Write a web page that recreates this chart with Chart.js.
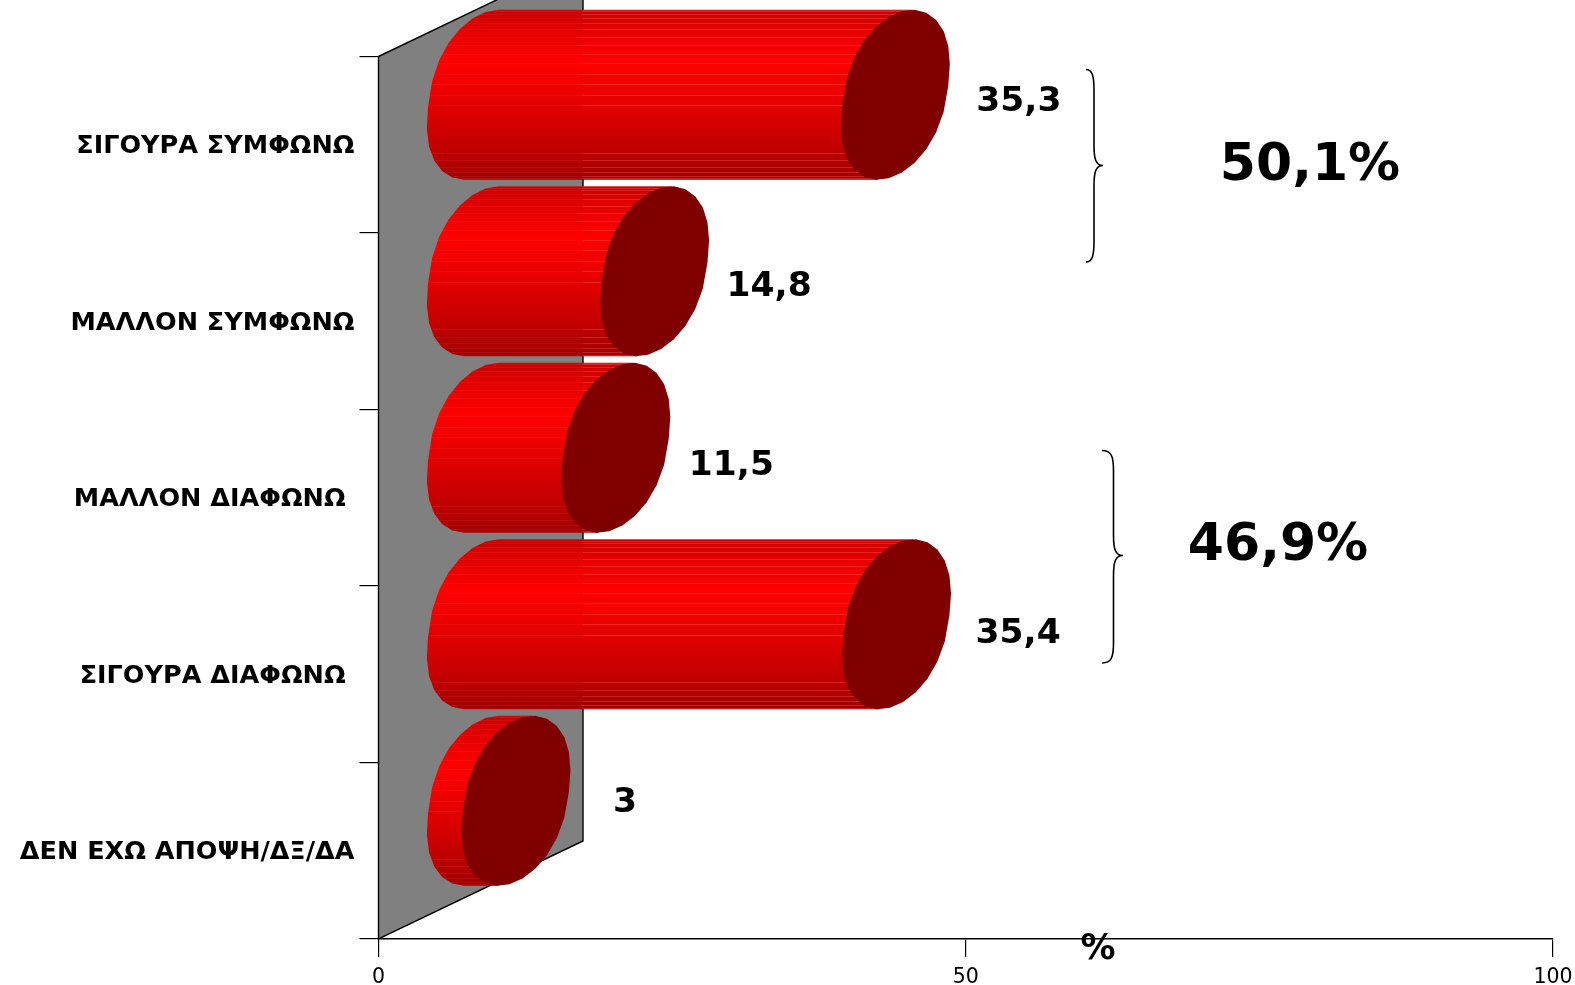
<!DOCTYPE html>
<html>
<head>
<meta charset="utf-8">
<title>Chart</title>
<script src="https://cdn.jsdelivr.net/npm/chart.js@4"></script>
<style>
  html, body { margin: 0; padding: 0; background: #fff; }
  canvas { display: block; }
</style>
</head>
<body>
<canvas id="myChart" width="1575" height="985"></canvas>
<script>
var categories = ["ΣΙΓΟΥΡΑ ΣΥΜΦΩΝΩ", "ΜΑΛΛΟΝ ΣΥΜΦΩΝΩ", "ΜΑΛΛΟΝ ΔΙΑΦΩΝΩ ", "ΣΙΓΟΥΡΑ ΔΙΑΦΩΝΩ ", "ΔΕΝ ΕΧΩ ΑΠΟΨΗ/ΔΞ/ΔΑ"];
var values = [35.3, 14.8, 11.5, 35.4, 3];
var xTicks = [0, 50, 100];
var groupTotals = ["50,1%", "46,9%"];

// hand placed value labels, left edge relative to the bar tip / up from the band centre
var labelNudgeX = [81, 72, 73, 79, 97];
var labelNudgeY = [43, 34, 32, 40, 48];

// 3d look of the old chart
var font = "'DejaVu Sans'";
var wallDx = 204.5, wallDy = 98;
var capW = 54.5, capTilt = -0.32, capFull = 0.88;

function capPoint(cx, cy, h, t) {
  var s = Math.sin(t + capTilt);
  return [cx + capW * Math.cos(t), cy + h * (s < 0 ? -1 : 1) * Math.pow(Math.abs(s), capFull)];
}

function traceCap(ctx, cx, cy, h) {
  ctx.beginPath();
  for (var i = 0; i < 26; i++) {
    var p = capPoint(cx, cy, h, i / 26 * Math.PI * 2);
    if (i == 0) ctx.moveTo(p[0], p[1]); else ctx.lineTo(p[0], p[1]);
  }
  ctx.closePath();
}

function drawCylinder(ctx, el, wallEdge) {
  var h = el.height / 2;
  var cy = el.y - wallDy / 2 - 1;
  var x0 = el.base + wallDx / 2;
  var x1 = el.x + wallDx / 2;
  var tBottom = Math.PI / 2 - capTilt;
  var tTop = -Math.PI / 2 - capTilt + Math.PI * 2;

  var body = new Path2D();
  for (var i = 0; i <= 13; i++) {
    var p = capPoint(x0, cy, h, tBottom + (tTop - tBottom) * i / 13);
    if (i == 0) body.moveTo(p[0], p[1]); else body.lineTo(p[0], p[1]);
  }
  var top = capPoint(x1, cy, h, tTop);
  var bottom = capPoint(x1, cy, h, tBottom);
  body.lineTo(top[0], top[1]);
  body.lineTo(bottom[0], bottom[1]);
  body.closePath();

  var g = ctx.createLinearGradient(0, cy - h, 0, cy + h);
  g.addColorStop(0, "#c80000");
  g.addColorStop(0.1, "#e00000");
  g.addColorStop(0.3, "#ff0000");
  g.addColorStop(0.45, "#f00000");
  g.addColorStop(0.65, "#d80000");
  g.addColorStop(0.85, "#bc0000");
  g.addColorStop(1, "#a00000");
  ctx.fillStyle = g;
  ctx.fill(body);

  // facet seams
  ctx.save();
  ctx.clip(body);
  ctx.lineWidth = 1;
  for (var k = -12; k <= 12; k++) {
    var s = Math.sin(k * 7.2 * Math.PI / 180);
    if (s > 0.15 && s < 0.6) continue;
    var y = Math.round(cy + h * s) + 0.5;
    ctx.strokeStyle = "rgba(255,120,120,0.1)";
    ctx.beginPath(); ctx.moveTo(x0 - capW, y); ctx.lineTo(wallEdge, y); ctx.stroke();
    ctx.strokeStyle = "rgba(255,120,120,0.3)";
    ctx.beginPath(); ctx.moveTo(Math.max(wallEdge, x0 - capW), y); ctx.lineTo(x1 + capW, y); ctx.stroke();
  }
  ctx.restore();

  traceCap(ctx, x1, cy, h);
  ctx.fillStyle = "#800000";
  ctx.fill();
}

function drawBrace(ctx, x0, x1, stem, top, bottom, tip) {
  ctx.beginPath();
  ctx.moveTo(x0, top);
  ctx.bezierCurveTo(stem - 2, top, stem, top + 6, stem, top + 20);
  ctx.lineTo(stem, tip - 20);
  ctx.bezierCurveTo(stem, tip - 6, stem + 2, tip, x1, tip);
  ctx.bezierCurveTo(stem + 2, tip, stem, tip + 6, stem, tip + 20);
  ctx.lineTo(stem, bottom - 20);
  ctx.bezierCurveTo(stem, bottom - 6, stem - 2, bottom, x0, bottom);
  ctx.strokeStyle = "#000";
  ctx.lineWidth = 1.6;
  ctx.stroke();
}

var wallPlugin = {
  id: "wall",
  beforeDatasetsDraw: function (chart) {
    var ctx = chart.ctx;
    var x = chart.scales.x.left, bottom = chart.scales.y.bottom, top = chart.scales.y.top;
    ctx.save();
    ctx.beginPath();
    ctx.moveTo(x, top);
    ctx.lineTo(x + wallDx, top - wallDy);
    ctx.lineTo(x + wallDx, bottom - wallDy);
    ctx.lineTo(x, bottom);
    ctx.closePath();
    ctx.fillStyle = "#808080";
    ctx.fill();
    ctx.strokeStyle = "#000";
    ctx.lineWidth = 1.4;
    ctx.stroke();
    ctx.restore();
  }
};

var cylinderPlugin = {
  id: "cylinders",
  afterDatasetsDraw: function (chart) {
    var ctx = chart.ctx;
    var wallEdge = chart.scales.x.left + wallDx;
    ctx.save();
    chart.getDatasetMeta(0).data.forEach(function (el, i) {
      drawCylinder(ctx, el, wallEdge);
      ctx.fillStyle = "#000";
      ctx.font = "bold 34.5px " + font;
      ctx.textAlign = "left";
      ctx.textBaseline = "middle";
      ctx.fillText(String(values[i]).replace(".", ","), el.x + wallDx / 2 + labelNudgeX[i], el.y - labelNudgeY[i]);
    });

    // the two group totals with their braces
    drawBrace(ctx, 1086, 1103, 1094, 69.5, 262, 165.5);
    drawBrace(ctx, 1102, 1123, 1113.5, 450.5, 663, 555.5);
    ctx.fillStyle = "#000";
    ctx.font = "bold 52px " + font;
    ctx.textAlign = "center";
    ctx.fillText(groupTotals[0], 1310, 166);
    ctx.fillText(groupTotals[1], 1278, 546);

    // axis unit sits on the line
    ctx.font = "bold 35px " + font;
    ctx.fillText("%", 1098, 950);
    ctx.restore();
  }
};

new Chart("myChart", {
  type: "bar",
  data: {
    labels: categories,
    datasets: [{
      data: values,
      backgroundColor: "rgba(0,0,0,0)",
      barThickness: 170,
      clip: false
    }]
  },
  plugins: [wallPlugin, cylinderPlugin],
  options: {
    indexAxis: "y",
    responsive: false,
    animation: false,
    layout: { padding: { top: 56.5, right: 22, left: 0, bottom: 0 } },
    plugins: { legend: { display: false }, tooltip: { enabled: false } },
    scales: {
      x: {
        min: 0,
        max: 100,
        afterBuildTicks: function (axis) {
          axis.ticks = xTicks.map(function (v) { return { value: v }; });
        },
        afterFit: function (axis) {
          axis.height = 46;
          axis.paddingLeft = 0;
          axis.paddingRight = 0;
        },
        border: { color: "#000", width: 1.4 },
        grid: { drawOnChartArea: false, color: "#000", tickColor: "#000", tickLength: 18, lineWidth: 1.2 },
        ticks: { color: "#000", padding: 8, maxRotation: 0, font: { family: font, size: 20.5 } }
      },
      y: {
        afterFit: function (axis) { axis.width = 378.5; },
        border: { color: "#000", width: 1.4 },
        grid: { drawOnChartArea: false, color: "#000", tickColor: "#000", tickLength: 19, lineWidth: 1.2 },
        ticks: { color: "#000", padding: 5, labelOffset: 2, autoSkip: false, font: { family: font, size: 25.5, weight: "bold" } }
      }
    }
  }
});
</script>
</body>
</html>
